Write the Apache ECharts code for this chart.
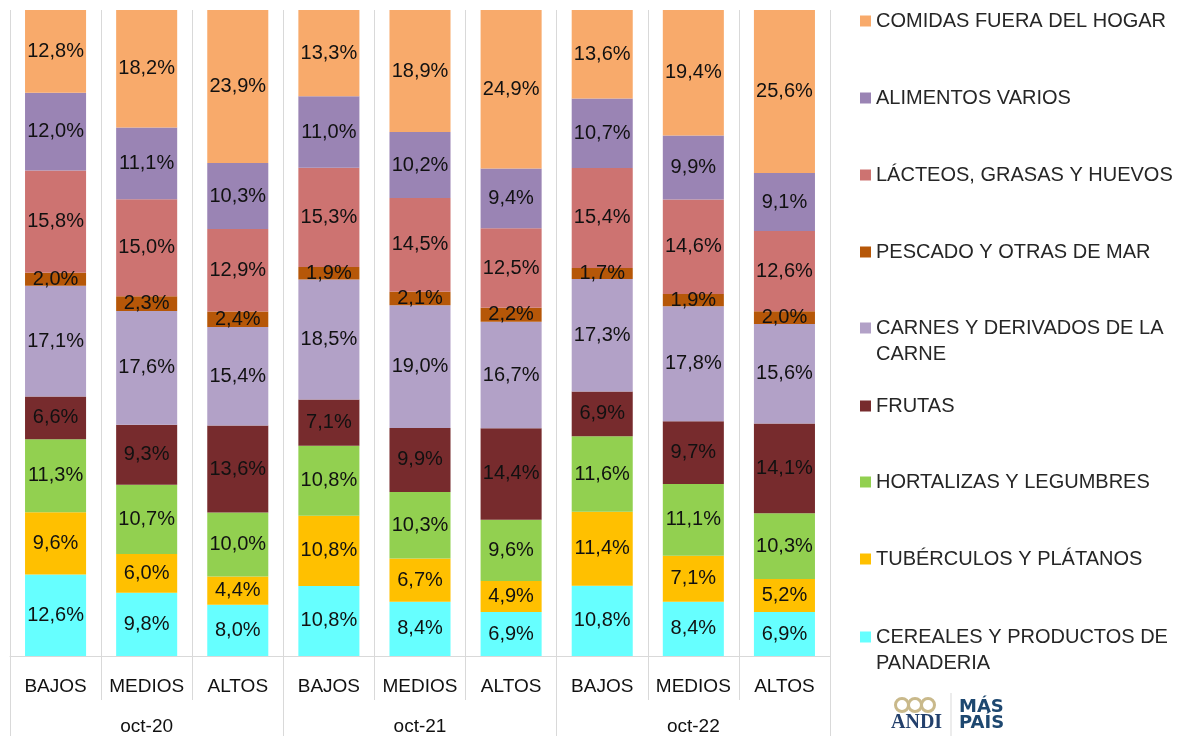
<!DOCTYPE html>
<html>
<head>
<meta charset="utf-8">
<script src="https://cdn.jsdelivr.net/npm/echarts@6/dist/echarts.min.js"></script>
<style>
  html, body { margin: 0; padding: 0; background: #fff; }
  #chart { width: 1180px; height: 736px; }
</style>
</head>
<body>
<div id="chart"></div>
<script>
// estratos y periodos
const estratos = ['BAJOS', 'MEDIOS', 'ALTOS', 'BAJOS', 'MEDIOS', 'ALTOS', 'BAJOS', 'MEDIOS', 'ALTOS'];
const periodos = ['oct-20', 'oct-21', 'oct-22'];

// participación (%) de cada grupo, de abajo hacia arriba
const cereales   = [12.6, 9.8, 8.0, 10.8, 8.4, 6.9, 10.8, 8.4, 6.9];
const tuberculos = [9.6, 6.0, 4.4, 10.8, 6.7, 4.9, 11.4, 7.1, 5.2];
const hortalizas = [11.3, 10.7, 10.0, 10.8, 10.3, 9.6, 11.6, 11.1, 10.3];
const frutas     = [6.6, 9.3, 13.6, 7.1, 9.9, 14.4, 6.9, 9.7, 14.1];
const carnes     = [17.1, 17.6, 15.4, 18.5, 19.0, 16.7, 17.3, 17.8, 15.6];
const pescado    = [2.0, 2.3, 2.4, 1.9, 2.1, 2.2, 1.7, 1.9, 2.0];
const lacteos    = [15.8, 15.0, 12.9, 15.3, 14.5, 12.5, 15.4, 14.6, 12.6];
const varios     = [12.0, 11.1, 10.3, 11.0, 10.2, 9.4, 10.7, 9.9, 9.1];
const comidas    = [12.8, 18.2, 23.9, 13.3, 18.9, 24.9, 13.6, 19.4, 25.6];

const grupos = [
  { name: 'CEREALES Y PRODUCTOS DE PANADERIA', data: cereales, color: '#66FFFF' },
  { name: 'TUBÉRCULOS Y PLÁTANOS', data: tuberculos, color: '#FFC000' },
  { name: 'HORTALIZAS Y LEGUMBRES', data: hortalizas, color: '#92D050' },
  { name: 'FRUTAS', data: frutas, color: '#772B2D' },
  { name: 'CARNES Y DERIVADOS DE LA CARNE', data: carnes, color: '#B2A1C7' },
  { name: 'PESCADO Y OTRAS DE MAR', data: pescado, color: '#B65708' },
  { name: 'LÁCTEOS, GRASAS Y HUEVOS', data: lacteos, color: '#CD7371' },
  { name: 'ALIMENTOS VARIOS', data: varios, color: '#9A84B4' },
  { name: 'COMIDAS FUERA DEL HOGAR', data: comidas, color: '#F8AA6B' }
];

// nombres que van en dos lineas en la leyenda
const leyendaTexto = {
  'CARNES Y DERIVADOS DE LA CARNE': '\nCARNES Y DERIVADOS DE LA\nCARNE',
  'CEREALES Y PRODUCTOS DE PANADERIA': '\nCEREALES Y PRODUCTOS DE\nPANADERIA'
};
// centro vertical de cada entrada de la leyenda (de arriba hacia abajo)
const leyendaY = [21, 98, 175, 252, 328, 406, 482, 559, 637];

const FONT = "'Century Gothic', 'Liberation Sans', sans-serif";
const fmt = v => v.toFixed(1).replace('.', ',') + '%';

// grafico 100% apilado: cada barra se lleva a su total
const totales = estratos.map((_, i) => grupos.reduce((s, g) => s + g.data[i], 0));

const series = grupos.map(g => ({
  name: g.name,
  type: 'bar',
  stack: 'total',
  barCategoryGap: '33%',
  itemStyle: { color: g.color },
  label: {
    show: true,
    position: 'inside',
    fontFamily: FONT,
    fontSize: 20,
    color: '#111',
    formatter: p => fmt(p.data.raw)
  },
  data: g.data.map((v, i) => ({ value: v / totales[i] * 100, raw: v }))
}));

const legends = grupos.slice().reverse().map((g, k) => {
  const dos = !!leyendaTexto[g.name];
  return {
    data: [g.name],
    left: 860,
    top: leyendaY[k] - (dos ? 39 : 13),
    padding: 0,
    icon: 'rect',
    itemWidth: 11,
    itemHeight: 11,
    selectedMode: false,
    formatter: n => leyendaTexto[n] || n,
    textStyle: { fontFamily: FONT, fontSize: 20, color: '#262626', lineHeight: 26 }
  };
});

const gris = '#D9D9D9';

const option = {
  animation: false,
  backgroundColor: '#fff',
  grid: { left: 10, right: 350, top: 10, bottom: 80 },
  legend: legends,
  xAxis: [
    {
      type: 'category',
      data: estratos,
      axisLine: { lineStyle: { color: gris } },
      axisTick: { show: true, interval: 0, length: 44, lineStyle: { color: gris } },
      axisLabel: { interval: 0, margin: 21, fontFamily: FONT, fontSize: 19, color: '#111' },
      splitLine: { show: true, interval: 0, lineStyle: { color: gris } }
    },
    {
      type: 'category',
      data: periodos,
      position: 'bottom',
      axisLine: { show: false },
      axisTick: { show: true, interval: 0, length: 80, lineStyle: { color: gris } },
      axisLabel: { interval: 0, margin: 61, fontFamily: FONT, fontSize: 19, color: '#111' }
    }
  ],
  yAxis: {
    type: 'value',
    min: 0,
    max: 100,
    show: false
  },
  series: series,
  graphic: [
    // logos ANDI | MÁS PAÍS
    { type: 'circle', shape: { cx: 902, cy: 705, r: 6.5 }, style: { fill: 'none', stroke: '#C9B98B', lineWidth: 3 } },
    { type: 'circle', shape: { cx: 915, cy: 705, r: 6.5 }, style: { fill: 'none', stroke: '#C9B98B', lineWidth: 3 } },
    { type: 'circle', shape: { cx: 928, cy: 705, r: 6.5 }, style: { fill: 'none', stroke: '#C9B98B', lineWidth: 3 } },
    { type: 'text', left: 891, top: 713, style: { text: 'ANDI', font: "bold 20px 'Liberation Serif', serif", fill: '#23406C' } },
    { type: 'line', shape: { x1: 951, y1: 693, x2: 951, y2: 736 }, style: { stroke: gris, lineWidth: 1 } },
    { type: 'text', left: 959, top: 698, style: { text: 'MÁS', font: "900 18px 'DejaVu Sans', sans-serif", fill: '#1E4870' } },
    { type: 'text', left: 959, top: 714, style: { text: 'PAÍS', font: "900 18px 'DejaVu Sans', sans-serif", fill: '#1E4870' } }
  ]
};

const chart = echarts.init(document.getElementById('chart'));
chart.setOption(option);
</script>
</body>
</html>
